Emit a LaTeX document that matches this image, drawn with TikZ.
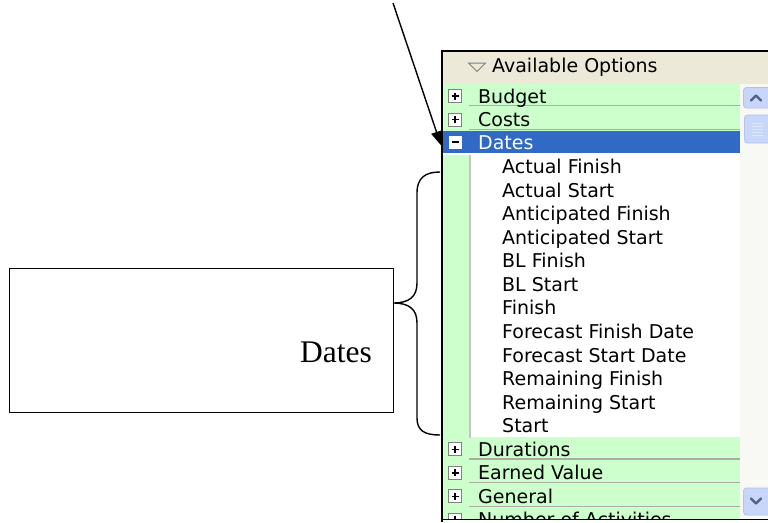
\documentclass[tikz,border=0pt]{standalone}
\usepackage{fontspec}
\setmainfont{Liberation Serif}
\newfontfamily\uifont{DejaVu Sans}
\usetikzlibrary{arrows.meta,calc}

\definecolor{rowgreen}{RGB}{204,255,204}
\definecolor{selblue}{RGB}{49,106,197}
\definecolor{headbg}{RGB}{236,233,216}
\definecolor{sepgray}{RGB}{172,172,164}
\definecolor{trackbg}{RGB}{248,248,244}
\definecolor{btnfill}{RGB}{200,214,250}
\definecolor{btnedge}{RGB}{176,196,240}
\definecolor{chevron}{RGB}{77,97,133}

\tikzset{
  ui/.style={font=\uifont\fontsize{19}{21}\selectfont, inner sep=0pt, anchor=base west, text=black},
  sepline/.style={draw=sepgray, line width=1.2pt},
  pbox/.style={draw=gray, fill=white, line width=0.9pt},
  pmark/.style={draw=black, line width=1.4pt},
  btn/.style={draw=btnedge, fill=btnfill, rounded corners=3pt, line width=0.8pt},
  chev/.style={draw=chevron, line width=2.2pt, line cap=round, line join=round},
  brace/.style={draw=black, line width=1.4pt},
  pointer/.style={draw=black, line width=1.4pt, -{Triangle[length=14pt,width=11pt]}},
  framebox/.style={draw=black, line width=1.3pt, inner sep=0pt}
}

\begin{document}
\begin{tikzpicture}[x=1pt,y=-1pt]
\useasboundingbox (0,0) rectangle (768,522);

% ---------- option panel ----------
\begin{scope}
\clip (441,51) rectangle (768,519.5);
\fill[white] (441,51) rectangle (768,522);
% header
\fill[headbg] (441,51) rectangle (768,84.2);
\draw[gray, line width=1pt] (477,71.5) -- (468.5,63) -- (485.5,63) -- cycle;
\node[ui] (head) at (492,72.5) {Available Options};

% collapsed categories
\foreach \k/\t/\n in {0/Budget/budget,1/Costs/costs,15/Durations/durations,
                      16/Earned Value/earned,17/General/general,18/Number of Activities/number}{
  \pgfmathsetmacro\yc{96+\k*23.55}
  \fill[rowgreen] (441,\yc-11.8) rectangle (740,\yc+11.8);
  \draw[sepline] (469,\yc+9.8) -- (740,\yc+9.8);
  \draw[pbox] (448.5,\yc-6.5) rectangle (461.5,\yc+6.5);
  \draw[pmark] (451.5,\yc) -- (458.5,\yc) (455,\yc-3.5) -- (455,\yc+3.5);
  \node[ui] (\n) at (478,\yc+7) {\t};
}

% expanded category: children
\foreach \k/\t/\n in {3/Actual Finish/af,4/Actual Start/as,5/Anticipated Finish/anf,
                      6/Anticipated Start/ans,7/BL Finish/blf,8/BL Start/bls,9/Finish/fin,
                      10/Forecast Finish Date/ffd,11/Forecast Start Date/fsd,
                      12/Remaining Finish/rf,13/Remaining Start/rs,14/Start/st}{
  \pgfmathsetmacro\yc{96+\k*23.55}
  \fill[rowgreen] (441,\yc-11.8) rectangle (469,\yc+11.8);
  \node[ui] (\n) at (502,\yc+7) {\t};
}
\draw[sepgray!70, line width=1.6pt] (470,154.9) -- (470,437.5);

% selected category row
\node[fill=selblue, inner sep=0pt, minimum width=299pt, minimum height=22pt, anchor=west] (datesrow) at (441,142.3) {};
\fill[white] (448.5,135.6) rectangle (461.5,148.6);
\draw[pmark] (451.5,142.1) -- (458.5,142.1);
\node[ui, text=white] (dates) at (478,149.5) {Dates};

% scrollbar
\fill[trackbg] (740,84.2) rectangle (768,519.5);
\draw[btn] (743.5,87.5) rectangle (772,108);
\draw[chev] (751,100.5) -- (756,95.5) -- (761,100.5);
\draw[btn] (744.5,115) rectangle (772,143);
\foreach \g in {123,126,129,132,135}
  \draw[white!60!btnedge, line width=1pt] (752,\g) -- (763,\g);
\draw[btn] (743.5,488) rectangle (772,515);
\draw[chev] (751,498.5) -- (756,503.5) -- (761,498.5);
\end{scope}

% panel frame
\draw[black, line width=2pt] (441.5,51) -- (441.5,522);
\draw[black, line width=1.5pt] (441,51) -- (768,51);
\draw[black, line width=1.5pt] (441,519.5) -- (768,519.5);

% ---------- annotation ----------
\node[framebox, minimum width=384pt, minimum height=144pt, anchor=north west] (box) at (9,268) {};
\node[font=\fontsize{31.5}{36}\selectfont, inner sep=0pt, anchor=base west] (lbl) at (300,362) {Dates};

\coordinate (tip) at (393,303);
\coordinate (braceTop) at (440,172);
\coordinate (braceBot) at (440,435);
\draw[brace] (braceTop) .. controls (425,172) and (417,178) .. (417,193)
  -- (417,283) .. controls (417,297) and (409,303) .. (tip)
  .. controls (409,303) and (417,309) .. (417,323)
  -- (417,418) .. controls (417,431) and (425,435) .. (braceBot);

\coordinate (arrowStart) at (393,3);
\draw[pointer] (arrowStart) -- ([yshift=-3pt]datesrow.west);
\end{tikzpicture}
\end{document}
